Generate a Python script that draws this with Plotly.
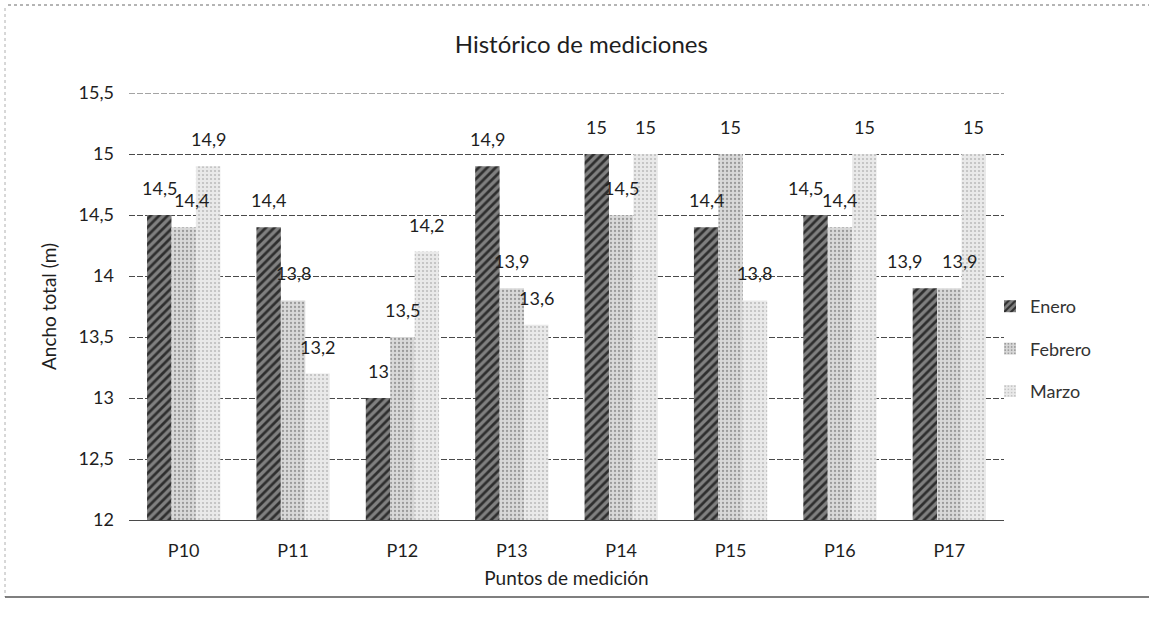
import plotly.graph_objects as go

# Measurement points and monthly widths (m)
puntos = ["P10", "P11", "P12", "P13", "P14", "P15", "P16", "P17"]
enero = [14.5, 14.4, 13.0, 14.9, 15.0, 14.4, 14.5, 13.9]
febrero = [14.4, 13.8, 13.5, 13.9, 14.5, 15.0, 14.4, 13.9]
marzo = [14.9, 13.2, 14.2, 13.6, 15.0, 13.8, 15.0, 15.0]
meses = ["Enero", "Febrero", "Marzo"]
y_ticks = [12, 12.5, 13, 13.5, 14, 14.5, 15, 15.5]

FONT = "Lato, 'Open Sans', sans-serif"
TEXT = "#1e1e1e"
GRID = "#4a4a4a"
GRID_DASH = "6px,2px"

styles = {
    "Enero": dict(bg="#808080", fg="#2e2e2e", shape="/", size=6, solidity=0.45),
    "Febrero": dict(bg="#d9d9d9", fg="#9a9a9a", shape=".", size=4, solidity=0.25),
    "Marzo": dict(bg="#e9e9e9", fg="#bdbdbd", shape=".", size=4, solidity=0.22),
}

# small horizontal nudges for labels that would otherwise collide
label_nudge = {
    ("Febrero", "P10"): 8,
    ("Enero", "P16"): -10,
    ("Enero", "P17"): -20,
    ("Febrero", "P17"): 10,
}


def fmt(v):
    return f"{v:g}".replace(".", ",")


L, R, T, B = 129, 145, 93, 108
W, H = 1149, 628
plot_w = W - L - R
plot_h = H - T - B

fig = go.Figure()
series = [enero, febrero, marzo]
for name, vals in zip(meses, series):
    st = styles[name]
    fig.add_trace(go.Bar(
        name=name,
        x=puntos,
        y=vals,
        legendgroup=name,
        marker=dict(
            color=st["bg"],
            line=dict(width=0),
            pattern=dict(shape=st["shape"], fillmode="replace",
                         bgcolor=st["bg"], fgcolor=st["fg"],
                         size=st["size"], solidity=st["solidity"]),
        ),
        hoverinfo="x+y+name",
    ))

# Value labels above each bar (grouped offset of one bar width)
cat_w = plot_w / len(puntos)
bargap = 0.33
bar_w = cat_w * (1 - bargap) / 3
for i, (name, vals) in enumerate(zip(meses, series)):
    for p, v in zip(puntos, vals):
        fig.add_annotation(
            x=p, y=v, text=fmt(v), showarrow=False,
            xshift=(i - 1) * bar_w + label_nudge.get((name, p), 0),
            yshift=14, yanchor="bottom",
            font=dict(family=FONT, size=18, color=TEXT),
        )

fig.update_layout(
    width=W, height=H,
    margin=dict(l=L, r=R, t=T, b=B),
    paper_bgcolor="white", plot_bgcolor="white",
    separators=", ",
    barmode="group", bargap=bargap, bargroupgap=0,
    font=dict(family=FONT, size=18, color=TEXT),
    title=dict(text="Histórico de mediciones", x=0.506, xref="container",
               xanchor="center", y=1 - 45 / H, yanchor="middle",
               font=dict(family=FONT, size=24, color=TEXT)),
    legend=dict(x=(990 - L) / plot_w, xanchor="left", y=(520 - 349) / plot_h,
                yanchor="middle",
                font=dict(family=FONT, size=18, color="#333"),
                tracegroupgap=16, traceorder="grouped",
                bgcolor="rgba(0,0,0,0)"),
    showlegend=True,
)

fig.update_yaxes(
    range=[12, 15.5], tickvals=y_ticks, ticktext=[fmt(t) for t in y_ticks],
    showgrid=True, gridcolor=GRID, gridwidth=1, griddash=GRID_DASH,
    zeroline=False, showline=False, ticks="", ticklabelstandoff=14,
    tickfont=dict(family=FONT, size=18, color=TEXT),
    title=dict(text="Ancho total (m)", standoff=16,
               font=dict(family=FONT, size=19, color=TEXT)),
)
fig.update_xaxes(
    showgrid=False, showline=True, linecolor=GRID, linewidth=1,
    ticks="", ticklabelstandoff=14,
    tickfont=dict(family=FONT, size=18, color=TEXT),
    title=dict(text="Puntos de medición", standoff=12,
               font=dict(family=FONT, size=19, color=TEXT)),
)

# top gridline at the upper end of the value axis
fig.add_shape(type="line", xref="paper", yref="y",
              x0=0, x1=1, y0=y_ticks[-1], y1=y_ticks[-1],
              line=dict(color=GRID, width=1, dash=GRID_DASH), layer="below")


# Outer frame of the chart area
def px_x(px):
    return (px - L) / plot_w


def px_y(py):
    return (H - B - py) / plot_h


fig.add_shape(type="line", xref="paper", yref="paper",
              x0=px_x(8), x1=px_x(W), y0=px_y(5), y1=px_y(5),
              line=dict(color="#6a6a6a", width=1, dash="dot"))
fig.add_shape(type="line", xref="paper", yref="paper",
              x0=px_x(5), x1=px_x(5), y0=px_y(8), y1=px_y(597),
              line=dict(color="#b0b0b0", width=1, dash="dot"))
fig.add_shape(type="line", xref="paper", yref="paper",
              x0=px_x(5), x1=px_x(W), y0=px_y(597), y1=px_y(597),
              line=dict(color="#555555", width=1.5))

fig.write_html("out.html")
